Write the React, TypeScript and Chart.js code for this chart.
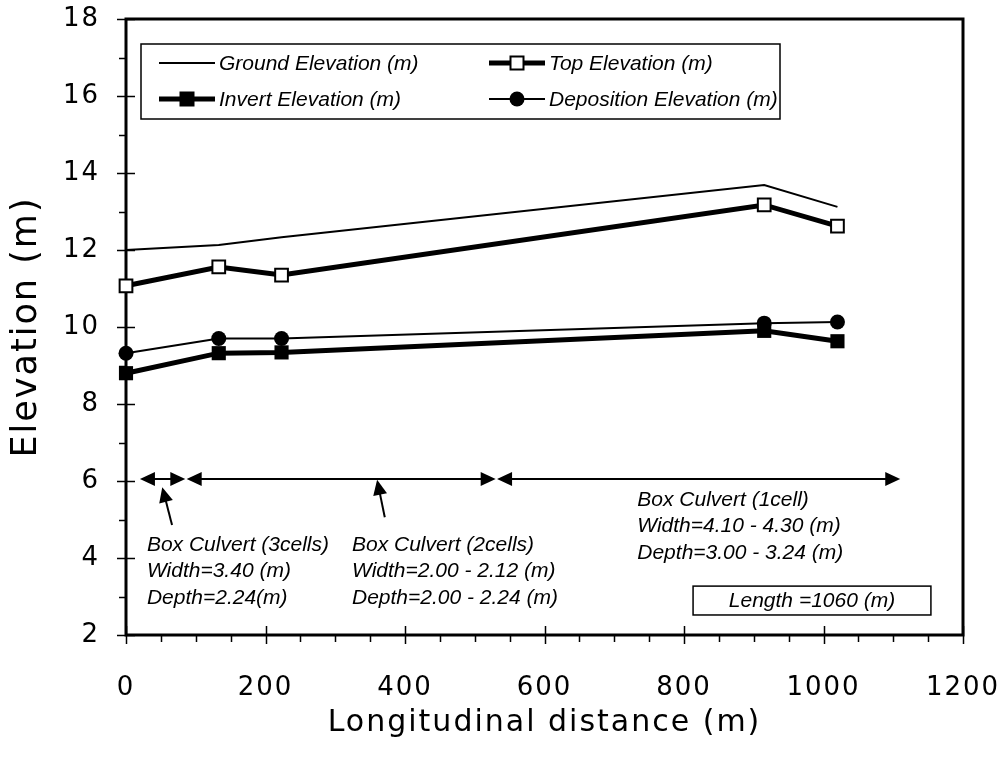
import React, { useEffect, useRef } from 'react';
import { Chart, registerables } from 'chart.js';

Chart.register(...registerables);

// ---- data ----
const distance = [0, 133, 223, 915, 1020];
const groundElevation = [12.0, 12.13, 12.33, 13.69, 13.12];
const topElevation = [11.07, 11.56, 11.35, 13.17, 12.62];
const invertElevation = [8.8, 9.32, 9.34, 9.9, 9.63];
const depositionElevation = [9.32, 9.7, 9.7, 10.1, 10.13];

const seriesLabels = [
  'Ground Elevation (m)',
  'Top Elevation (m)',
  'Invert Elevation (m)',
  'Deposition Elevation (m)',
];

const xTickValues = [0, 200, 400, 600, 800, 1000, 1200];
const yTickValues = [2, 4, 6, 8, 10, 12, 14, 16, 18];

const xTitle = 'Longitudinal distance (m)';
const yTitle = 'Elevation (m)';

// culvert extents (distance ranges drawn at elevation 6)
const culvertStarts = [20, 87, 532];
const culvertEnds = [85, 530, 1110];
const culvertLevel = 6;

const noteTexts = [
  ['Box Culvert (3cells)', 'Width=3.40 (m)', 'Depth=2.24(m)'],
  ['Box Culvert (2cells)', 'Width=2.00 - 2.12 (m)', 'Depth=2.00 - 2.24 (m)'],
  ['Box Culvert (1cell)', 'Width=4.10 - 4.30 (m)', 'Depth=3.00 - 3.24 (m)'],
];
const noteX = [30, 324, 733];
const noteY = [4.34, 4.34, 5.51];

const pointerFromX = [66, 371];
const pointerFromY = [4.86, 5.06];
const pointerToX = [52, 360];
const pointerToY = [5.84, 6.03];

const lengthText = 'Length =1060 (m)';

const AXIS_FONT = "'DejaVu Sans', sans-serif";
const ITALIC_FONT = "italic 21px 'Liberation Sans', Arial, sans-serif";

function arrowHead(ctx: CanvasRenderingContext2D, tx: number, ty: number, fx: number, fy: number, len = 15, half = 7) {
  const ang = Math.atan2(ty - fy, tx - fx);
  const bx = tx - len * Math.cos(ang);
  const by = ty - len * Math.sin(ang);
  const nx = -Math.sin(ang) * half;
  const ny = Math.cos(ang) * half;
  ctx.beginPath();
  ctx.moveTo(tx, ty);
  ctx.lineTo(bx + nx, by + ny);
  ctx.lineTo(bx - nx, by - ny);
  ctx.closePath();
  ctx.fill();
}

const spacingPlugin = {
  id: 'spacing',
  beforeDraw(chart: any) {
    (chart.ctx as any).letterSpacing = '2px';
  },
};

const framePlugin = {
  id: 'frame',
  beforeDatasetsDraw(chart: any) {
    const ctx: CanvasRenderingContext2D = chart.ctx;
    const xs = chart.scales.x;
    const ys = chart.scales.y;
    const { left, right, top, bottom } = chart.chartArea;
    ctx.save();
    (ctx as any).letterSpacing = '0px';
    ctx.strokeStyle = '#000';
    ctx.lineWidth = 1.5;
    ctx.beginPath();
    for (let v = ys.min; v <= ys.max; v += 1) {
      const y = Math.round(ys.getPixelForValue(v)) + 0.5;
      if (v % 2 === 0) {
        ctx.moveTo(left - 9, y);
        ctx.lineTo(left + 9, y);
      } else {
        ctx.moveTo(left - 7, y);
        ctx.lineTo(left, y);
      }
    }
    for (let v = xs.min; v <= xs.max; v += 50) {
      const x = Math.round(xs.getPixelForValue(v)) + 0.5;
      if (v % 200 === 0) {
        ctx.moveTo(x, bottom - 9);
        ctx.lineTo(x, bottom + 9);
      } else {
        ctx.moveTo(x, bottom);
        ctx.lineTo(x, bottom + 7);
      }
    }
    ctx.stroke();
    ctx.lineWidth = 3;
    ctx.strokeRect(left, top, right - left, bottom - top);
    ctx.restore();
  },
};

const annotationPlugin = {
  id: 'annotations',
  afterDraw(chart: any) {
    const ctx: CanvasRenderingContext2D = chart.ctx;
    const xs = chart.scales.x;
    const ys = chart.scales.y;
    const { left, top } = chart.chartArea;
    const px = (v: number) => xs.getPixelForValue(v);
    const py = (v: number) => ys.getPixelForValue(v);
    ctx.save();
    (ctx as any).letterSpacing = '0px';
    ctx.strokeStyle = '#000';
    ctx.fillStyle = '#000';

    // ---- legend ----
    const lx = left + 15;
    const ly = top + 25;
    const lw = 639;
    const lh = 75;
    ctx.fillStyle = '#fff';
    ctx.fillRect(lx, ly, lw, lh);
    ctx.fillStyle = '#000';
    ctx.lineWidth = 1.5;
    ctx.strokeRect(lx, ly, lw, lh);
    const rowY = [ly + 19, ly + 55];
    const colX = [lx + 18, lx + 348];
    const sampleW = 56;
    ctx.font = ITALIC_FONT;
    ctx.textBaseline = 'middle';
    ctx.textAlign = 'left';
    const items = [
      { col: 0, row: 0, width: 2, marker: 'none' },
      { col: 1, row: 0, width: 5, marker: 'open' },
      { col: 0, row: 1, width: 5, marker: 'square' },
      { col: 1, row: 1, width: 2, marker: 'circle' },
    ];
    items.forEach((it, i) => {
      const x0 = colX[it.col];
      const y0 = rowY[it.row];
      ctx.lineWidth = it.width;
      ctx.beginPath();
      ctx.moveTo(x0, y0);
      ctx.lineTo(x0 + sampleW, y0);
      ctx.stroke();
      const cx = x0 + sampleW / 2;
      if (it.marker === 'open') {
        ctx.fillStyle = '#fff';
        ctx.fillRect(cx - 6.5, y0 - 6.5, 13, 13);
        ctx.lineWidth = 2;
        ctx.strokeRect(cx - 6.5, y0 - 6.5, 13, 13);
        ctx.fillStyle = '#000';
      } else if (it.marker === 'square') {
        ctx.fillRect(cx - 7.5, y0 - 7.5, 15, 15);
      } else if (it.marker === 'circle') {
        ctx.beginPath();
        ctx.arc(cx, y0, 7.5, 0, Math.PI * 2);
        ctx.fill();
      }
      ctx.fillText(seriesLabels[i], x0 + sampleW + 4, y0 + 1);
    });

    // ---- culvert extents ----
    const yl = Math.round(py(culvertLevel)) - 2;
    ctx.lineWidth = 2;
    culvertStarts.forEach((s, i) => {
      const a = px(s);
      const b = px(culvertEnds[i]);
      ctx.beginPath();
      ctx.moveTo(a + 10, yl);
      ctx.lineTo(b - 10, yl);
      ctx.stroke();
      arrowHead(ctx, a, yl, b, yl);
      arrowHead(ctx, b, yl, a, yl);
    });

    // ---- pointers ----
    pointerFromX.forEach((fx, i) => {
      const x1 = px(fx);
      const y1 = py(pointerFromY[i]);
      const x2 = px(pointerToX[i]);
      const y2 = py(pointerToY[i]);
      ctx.lineWidth = 2;
      ctx.beginPath();
      ctx.moveTo(x1, y1);
      const ang = Math.atan2(y2 - y1, x2 - x1);
      ctx.lineTo(x2 - 10 * Math.cos(ang), y2 - 10 * Math.sin(ang));
      ctx.stroke();
      arrowHead(ctx, x2, y2, x1, y1, 15, 7);
    });

    // ---- notes ----
    ctx.font = ITALIC_FONT;
    ctx.textAlign = 'left';
    ctx.textBaseline = 'middle';
    noteTexts.forEach((lines, i) => {
      const x = px(noteX[i]);
      const y = py(noteY[i]);
      lines.forEach((t, j) => ctx.fillText(t, x, y + j * 26.5));
    });

    // ---- length box ----
    const bx0 = px(813);
    const bx1 = px(1154);
    const by0 = py(3.27);
    const by1 = py(2.52);
    ctx.lineWidth = 1.5;
    ctx.strokeRect(bx0, by0, bx1 - bx0, by1 - by0);
    ctx.textAlign = 'center';
    ctx.fillText(lengthText, (bx0 + bx1) / 2, (by0 + by1) / 2 + 1);
    ctx.restore();
  },
};

export default function App() {
  const ref = useRef<HTMLCanvasElement | null>(null);
  useEffect(() => {
    if (!ref.current) return;
    const mk = (ys: number[]) => distance.map((x, i) => ({ x, y: ys[i] }));
    const chart = new Chart(ref.current, {
      type: 'line',
      data: {
        datasets: [
          {
            label: seriesLabels[0],
            data: mk(groundElevation),
            borderColor: '#000',
            borderWidth: 2,
            pointRadius: 0,
            clip: false,
          },
          {
            label: seriesLabels[1],
            data: mk(topElevation),
            borderColor: '#000',
            borderWidth: 5,
            pointStyle: 'rect',
            pointRadius: 9,
            pointBackgroundColor: '#fff',
            pointBorderColor: '#000',
            pointBorderWidth: 2,
            clip: false,
          },
          {
            label: seriesLabels[2],
            data: mk(invertElevation),
            borderColor: '#000',
            borderWidth: 5,
            pointStyle: 'rect',
            pointRadius: 10,
            pointBackgroundColor: '#000',
            pointBorderColor: '#000',
            pointBorderWidth: 0,
            clip: false,
          },
          {
            label: seriesLabels[3],
            data: mk(depositionElevation),
            borderColor: '#000',
            borderWidth: 2,
            pointStyle: 'circle',
            pointRadius: 7.5,
            pointBackgroundColor: '#000',
            pointBorderColor: '#000',
            pointBorderWidth: 0,
            clip: false,
          },
        ],
      },
      options: {
        animation: false,
        responsive: false,
        devicePixelRatio: 1,
        events: [],
        layout: { padding: { top: 19, right: 39, left: 0, bottom: 0 } },
        plugins: { legend: { display: false }, tooltip: { enabled: false } },
        scales: {
          x: {
            type: 'linear',
            min: 0,
            max: 1200,
            afterBuildTicks: (s: any) => {
              s.ticks = xTickValues.map((v) => ({ value: v }));
            },
            afterFit: (s: any) => {
              s.height = 145;
              s.paddingLeft = 0;
              s.paddingRight = 0;
            },
            grid: { display: false, drawTicks: false },
            border: { display: false },
            ticks: {
              color: '#000',
              font: { family: AXIS_FONT, size: 26 },
              padding: 38,
              maxRotation: 0,
              autoSkip: false,
              callback: (v: any) => String(v),
            },
            title: {
              display: true,
              text: xTitle,
              color: '#000',
              font: { family: AXIS_FONT, size: 30 },
              padding: { top: 0, bottom: 39 },
            },
          },
          y: {
            type: 'linear',
            min: 2,
            max: 18,
            afterBuildTicks: (s: any) => {
              s.ticks = yTickValues.map((v) => ({ value: v }));
            },
            afterFit: (s: any) => {
              s.width = 126;
              s.paddingTop = 0;
              s.paddingBottom = 0;
            },
            grid: { display: false, drawTicks: false },
            border: { display: false },
            ticks: {
              color: '#000',
              font: { family: AXIS_FONT, size: 26 },
              padding: 26,
              autoSkip: false,
              callback: (v: any) => String(v),
            },
            title: {
              display: true,
              text: yTitle,
              color: '#000',
              font: { family: AXIS_FONT, size: 35 },
              padding: { top: 6, bottom: 0 },
            },
          },
        },
      } as any,
      plugins: [spacingPlugin, framePlugin, annotationPlugin],
    });
    return () => chart.destroy();
  }, []);
  return (
    <div style={{ position: 'fixed', left: 0, top: 0, width: 1002, height: 780, background: '#fff' }}>
      <canvas ref={ref} width={1002} height={780} style={{ width: 1002, height: 780, display: 'block' }} />
    </div>
  );
}
